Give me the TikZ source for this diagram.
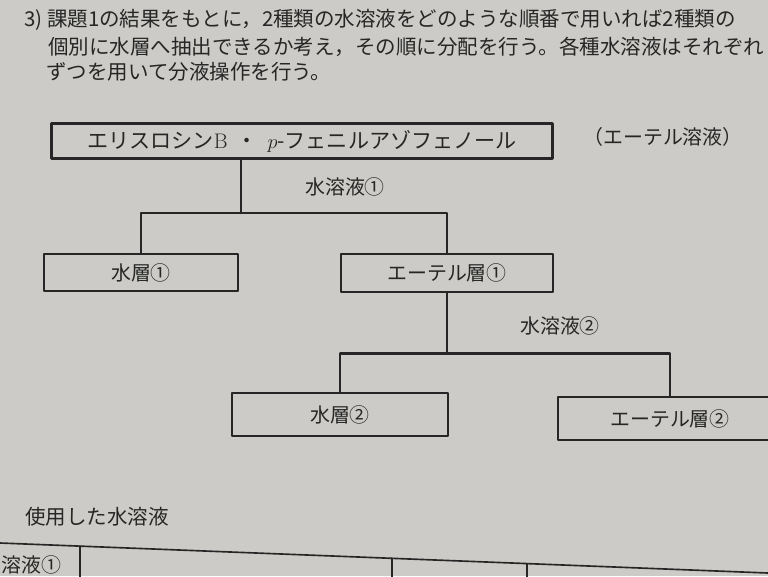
\documentclass[tikz,border=0pt]{standalone}
\usepackage{fontspec}
\newfontfamily\jp{Noto Sans CJK JP}
\definecolor{carta}{RGB}{204,203,199}
\definecolor{inchiostro}{RGB}{38,38,38}

\begin{document}
\begin{tikzpicture}[x=0.03cm, y=-0.03cm, line cap=round, line join=round,
  scatola/.style={draw=inchiostro, line width=2.1pt, inner sep=0pt},
  filo/.style={draw=inchiostro, line width=2.2pt},
  testo/.style={font=\jp\fontsize{17}{20}\selectfont, text=inchiostro},
  para/.style={font=\jp\fontsize{17.5}{21}\selectfont, text=inchiostro}]

% foglio
\useasboundingbox (0,0) rectangle (768,576);
\fill[carta] (0,0) rectangle (768,576);
\clip (0,0) rectangle (768,576);

% testo della consegna
\node[para, anchor=west] (r1) at (20,20) {3)\ 課題1の結果をもとに，2種類の水溶液をどのような順番で用いれば2種類の};
\node[para, anchor=west] (r2) at (44,47) {個別に水層へ抽出できるか考え，その順に分配を行う。各種水溶液はそれぞれ};
\node[para, anchor=west] (r3) at (42,72) {ずつを用いて分液操作を行う。};

% scatole
\node[scatola, testo, font=\jp\fontsize{18}{20}\selectfont, minimum width=15.03cm, minimum height=1.05cm] (top) at (302,141)
  {エリスロシン{\normalfont B}\ \ ・\ \ {\normalfont$p$}-フェニルアゾフェノール};
\node[testo] (sol) at (663,137) {（エーテル溶液）};
\node[scatola, testo, minimum width=5.82cm, minimum height=1.11cm] (w1) at (141,272.5) {水層①};
\node[scatola, testo, minimum width=6.36cm, minimum height=1.14cm] (e1) at (447,273) {エーテル層①};
\node[scatola, testo, minimum width=6.48cm, minimum height=1.29cm] (w2) at (340,414.5) {水層②};
\node[scatola, testo, minimum width=6.72cm, minimum height=1.29cm] (e2) at (670,418.5) {エーテル層②};

% rami
\coordinate (n1) at (241,213);
\draw[filo] (top.south -| n1) -- (n1);
\draw[filo] (w1.north) |- (n1) -| (e1.north);
\node[testo] (aq1) at (345,187) {水溶液①};

\path (e1.south) ++(0,60) coordinate (n2);
\draw[filo] (e1.south) -- (n2);
\draw[filo] (w2.north) |- (n2) -| (e2.north);
\node[testo] (aq2) at (560,326) {水溶液②};

% tabella in basso
\node[para, anchor=west] (uso) at (21,517) {使用した水溶液};
\draw[inchiostro, line width=1.4pt] (0,543) -- (768,573);
\draw[inchiostro, line width=1.4pt] (80,546.1) -- (80,590);
\draw[inchiostro, line width=1.4pt] (392,558.3) -- (392,590);
\draw[inchiostro, line width=1.4pt] (527,563.6) -- (527,590);
\node[testo, anchor=west, inner xsep=1pt] (c1) at (0,565) {溶液①};

\end{tikzpicture}
\end{document}
